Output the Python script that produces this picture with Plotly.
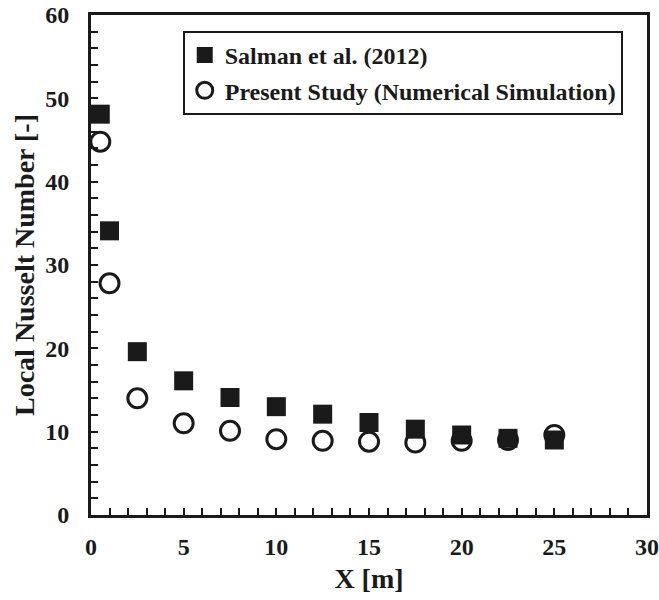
import plotly.graph_objects as go

x_vals = [0.5, 1, 2.5, 5, 7.5, 10, 12.5, 15, 17.5, 20, 22.5, 25]
salman = [48.1, 34.1, 19.6, 16.1, 14.1, 13.0, 12.1, 11.1, 10.3, 9.6, 9.2, 9.0]
present = [44.8, 27.8, 14.0, 11.0, 10.1, 9.1, 8.9, 8.8, 8.7, 8.9, 9.0, 9.6]
x_ticks = [0, 5, 10, 15, 20, 25, 30]
y_ticks = [0, 10, 20, 30, 40, 50, 60]

FONT = "Liberation Serif"
INK = "#1a1a1a"

fig = go.Figure()
fig.add_trace(go.Scatter(
    x=x_vals, y=salman, mode="markers", name="<b>Salman et al. (2012)</b>",
    legendgroup="a",
    marker=dict(symbol="square", size=19, color=INK, line=dict(width=0)),
))
fig.add_trace(go.Scatter(
    x=x_vals, y=present, mode="markers", name="<b>Present Study (Numerical Simulation)</b>",
    legendgroup="b",
    marker=dict(symbol="circle-open", size=19, color=INK, line=dict(width=3, color=INK)),
))

axis_common = dict(
    showline=True, linecolor=INK, linewidth=3, mirror=True,
    ticks="inside", ticklen=7, tickwidth=1.5, tickcolor=INK,
    showgrid=False, zeroline=False, automargin=False,
    tickfont=dict(family=FONT, size=24, color=INK),
)

fig.update_layout(
    width=659, height=600,
    margin=dict(l=91, r=12, t=15, b=85),
    paper_bgcolor="white", plot_bgcolor="white",
    font=dict(family=FONT, color=INK),
    xaxis=dict(
        range=[0, 30], tickvals=x_ticks, ticktext=[f"<b>{v}</b>" for v in x_ticks],
        ticklabelstandoff=8,
        minor=dict(dtick=1, ticks="inside", ticklen=7, tickwidth=1.5, tickcolor=INK),
        title=dict(text="<b>X [m]</b>", font=dict(family=FONT, size=28, color=INK), standoff=10),
        **axis_common,
    ),
    yaxis=dict(
        range=[0, 60], tickvals=y_ticks, ticktext=[f"<b>{v}</b>" for v in y_ticks],
        ticklabelstandoff=14,
        minor=dict(dtick=2, ticks="inside", ticklen=7, tickwidth=1.5, tickcolor=INK),
        title=dict(text="<b>Local Nusselt Number [-]</b>", font=dict(family=FONT, size=28, color=INK), standoff=3),
        **axis_common,
    ),
    legend=dict(
        x=0.165, y=0.968, xanchor="left", yanchor="top",
        bordercolor=INK, borderwidth=2, bgcolor="white",
        font=dict(family=FONT, size=24, color=INK),
        tracegroupgap=1, itemwidth=30,
    ),
)

fig.write_html("out.html")
